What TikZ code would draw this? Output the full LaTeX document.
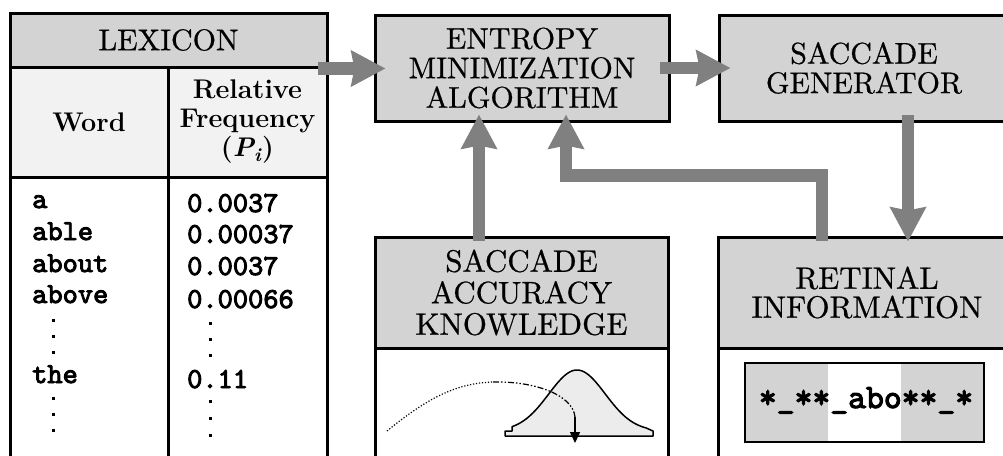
\documentclass[tikz,border=0pt]{standalone}
\usepackage{fontspec}
\newfontfamily\monob{lmmono10-regular.otf}[FakeBold=3.2]
\newfontfamily\hdrfont{lmroman10-regular.otf}[FakeBold=0.6]
\usetikzlibrary{arrows.meta}
\definecolor{hdrgray}{RGB}{211,211,211}
\definecolor{rowgray}{RGB}{242,242,242}
\definecolor{arrgray}{RGB}{128,128,128}
\definecolor{bellgray}{RGB}{236,236,236}
\begin{document}
\begin{tikzpicture}[x=1pt,y=-1pt,
  box/.style={draw, line width=3pt, inner sep=0pt, rectangle},
  hdr/.style={box, fill=hdrgray, font=\hdrfont\fontsize{30}{29.5}\selectfont, align=center},
  conn/.style={draw=arrgray, line width=12.5pt, line join=miter,
    -{Stealth[length=34pt,width=35pt,inset=3pt]}},
  mono/.style={anchor=base west, inner sep=0pt, font=\monob\fontsize{29}{29}\selectfont},
  vdot/.style={fill=black},
  ]
\useasboundingbox (0,0) rectangle (1003,455);
\clip (0,0) rectangle (1003,455);
\fill[white] (0,0) rectangle (1003,455);

% ---------- Lexicon ----------
\node[hdr, minimum width=317pt, minimum height=54pt] (lexhead) at (168.5,40) {LEXICON};
\node[box, fill=rowgray, minimum width=158pt, minimum height=110pt,
  font=\bfseries\fontsize{27}{29}\selectfont] (wordhead) at (89,122) {Word};
\node[box, fill=rowgray, minimum width=159pt, minimum height=110pt, align=center,
  font=\bfseries\fontsize{27}{29}\selectfont] (freqhead) at (247.5,122)
  {Relative\\Frequency\\(\textit{P}\kern-1pt\textsubscript{\textit{i}})};
\node[box, fill=white, minimum width=158pt, minimum height=300pt] (wordcol) at (89,327) {};
\node[box, fill=white, minimum width=159pt, minimum height=300pt] (freqcol) at (247.5,327) {};

\node[mono] (w1) at (32,208) {a};
\node[mono] (w2) at (32,240) {able};
\node[mono] (w3) at (32,272) {about};
\node[mono] (w4) at (32,303) {above};
\node[mono] (w5) at (32,383) {the};
\node[mono] (n1) at (187,212) {0.0037};
\node[mono] (n2) at (187,243) {0.00037};
\node[mono] (n3) at (187,275) {0.0037};
\node[mono] (n4) at (187,308) {0.00066};
\node[mono] (n5) at (187,388) {0.11};
\foreach \y in {320,336,352,398,414,430} \fill[vdot] (51.5,\y-1.5) rectangle ++(3,3);
\foreach \y in {323,339,355,401,418,435} \fill[vdot] (208.5,\y-1.5) rectangle ++(3,3);

% ---------- Entropy / generator ----------
\node[hdr, minimum width=294pt, minimum height=106pt] (entropy) at (522,68)
  {ENTROPY\\MINIMIZATION\\ALGORITHM};
\node[hdr, minimum width=290pt, minimum height=106pt] (sacgen) at (864,68)
  {SACCADE\\GENERATOR};

% ---------- Saccade accuracy ----------
\node[hdr, font=\hdrfont\fontsize{31}{31.5}\selectfont, minimum width=293pt, minimum height=111pt]
  (acchead) at (521.5,292.5) {SACCADE\\ACCURACY\\KNOWLEDGE};
\node[box, fill=white, minimum width=293pt, minimum height=130pt] (accbody) at (521.5,413) {};

\filldraw[fill=bellgray, line width=1.5pt, line join=round]
  (505,436) -- (505,431) -- (512,431)
  -- plot[domain=512:646, samples=70] (\x,{431-61*exp(0-((\x-577)*(\x-577))/1600)})
  -- (653,431) -- (653,436) -- cycle;
\draw[line width=1.2pt, dash pattern=on 1.2pt off 1.8pt]
  (387,431) .. controls (425,400) and (455,383) .. (493,382);
\draw[line width=1.2pt, dash pattern=on 6pt off 2pt on 1.5pt off 2pt on 1.5pt off 2pt]
  (493,382) .. controls (535,381) and (573,395) .. (575,417);
\draw[line width=1.5pt, -{Triangle[length=11pt,width=10pt]}] (575,417) -- (575,443);

% ---------- Retinal ----------
\node[hdr, font=\hdrfont\fontsize{31}{29}\selectfont, minimum width=298pt, minimum height=111pt]
  (rethead) at (867,292.5) {RETINAL\\INFORMATION};
\node[box, fill=white, minimum width=298pt, minimum height=130pt] (retbody) at (867,413) {};
\node[draw, line width=1.5pt, fill=hdrgray, inner sep=0pt, minimum width=239pt, minimum height=79pt,
  path picture={\fill[white] ([xshift=83pt]path picture bounding box.south west)
     rectangle ([xshift=156pt]path picture bounding box.north west);}]
  (retstrip) at (864.5,402.5) {};
\node[anchor=base, inner sep=0pt, font=\monob\fontsize{34}{34}\selectfont]
  (rettext) at (866,408) {*\_**\_abo**\_*};

% ---------- Connectors ----------
\coordinate (sgout) at ([xshift=44pt]sacgen.south);
\coordinate (accout) at ([xshift=-42.5pt]acchead.north);
\coordinate (retout) at ([xshift=-45pt]rethead.north);
\coordinate (entin) at ([xshift=44pt]entropy.south);

\draw[conn, shorten <=-11pt, shorten >=-12pt] (lexhead.south east) -- (lexhead.south east -| entropy.west);
\draw[conn, shorten <=-11pt, shorten >=-13pt] (entropy.east) -- (sacgen.west);
\draw[conn, shorten <=-8pt, shorten >=-6pt] (sgout) -- (sgout |- rethead.north);
\draw[conn, shorten <=-5pt, shorten >=-8pt] (accout) -- (accout |- entropy.south);
\draw[conn, shorten <=-5pt, shorten >=-8pt] (retout) -- ++(0,-60) -| (entin);
\end{tikzpicture}
\end{document}
